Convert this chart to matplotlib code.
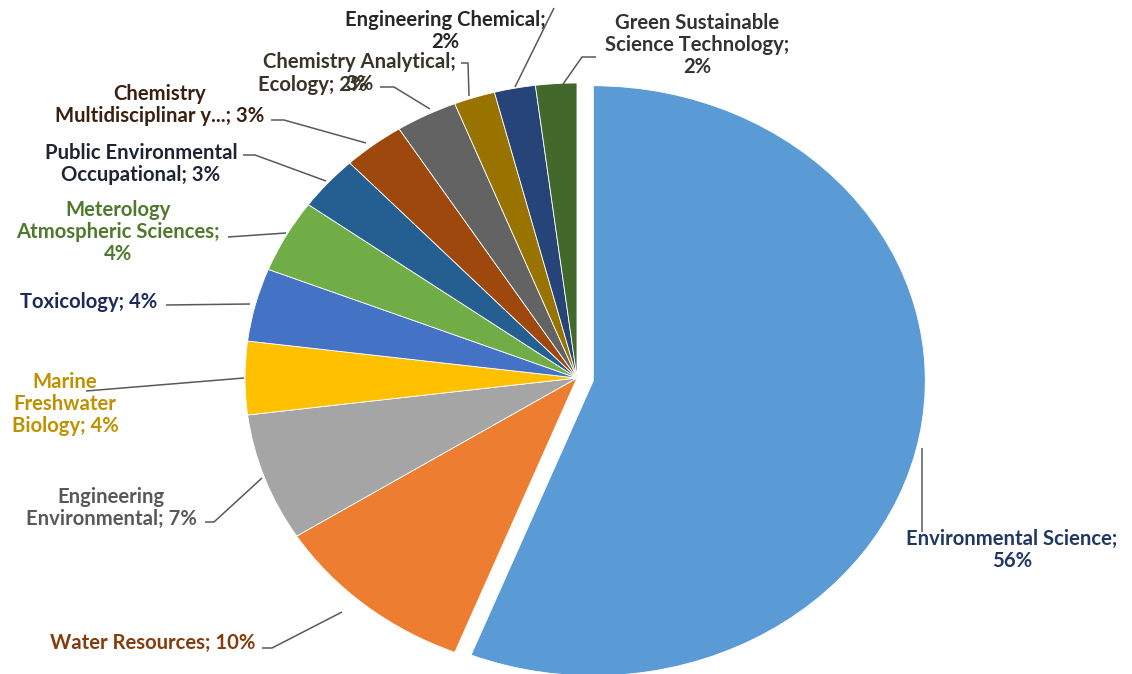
import matplotlib
matplotlib.use("Agg")
import matplotlib.pyplot as plt

# Research categories and their share of publications (%)
categories = [
    "Environmental Science", "Water Resources", "Engineering Environmental",
    "Marine Freshwater Biology", "Toxicology", "Meterology Atmospheric Sciences",
    "Public Environmental Occupational", "Chemistry Multidisciplinary",
    "Chemistry Analytical", "Ecology", "Engineering Chemical",
    "Green Sustainable Science Technology",
]
shares = [56, 10, 7, 4, 4, 4, 3, 3, 3, 2, 2, 2]
label_texts = [
    "Environmental Science;\n{v}%", "Water Resources; {v}%", "Engineering\nEnvironmental; {v}%",
    "Marine\nFreshwater\nBiology; {v}%", "Toxicology; {v}%", "Meterology\nAtmospheric Sciences;\n{v}%",
    "Public Environmental\nOccupational; {v}%", "Chemistry\nMultidisciplinar y...; {v}%",
    "Chemistry Analytical;\n{v}%", "Ecology; {v}%", "Engineering Chemical;\n{v}%",
    "Green Sustainable\nScience Technology;\n{v}%",
]

slice_colors = ["#5B9BD5", "#ED7D31", "#A5A5A5", "#FFC000", "#4472C4", "#70AD47",
                "#255E91", "#9E480E", "#636363", "#997300", "#264478", "#43682B"]
text_colors = ["#1F3864", "#843C0C", "#595959", "#BF9000", "#1F2A5C", "#4E7A2E",
               "#1E2433", "#3B2010", "#3A3428", "#3A3428", "#262626", "#333333"]

W, H = 1132, 674
CX, CY, RX, RY = 577, 378, 332, 295


def px(x, y):
    """Convert a pixel position (origin top-left) to data coordinates."""
    return (x - CX) / RX, (CY - y) / RY


# label anchor (centre of text block) and leader polyline, in pixels
label_pos = [(1012, 550), (153, 643), (111, 508), (65, 404), (89, 302), (118, 232),
             (141, 164), (160, 105), (359, 73), (313, 85), (445, 31), (697, 45)]
leaders = [
    [(922, 532), (922, 448)],
    [(262, 648), (272, 648), (342, 612)],
    [(205, 522), (214, 522), (262, 478)],
    [(86, 391), (244, 378)],
    [(166, 305), (250, 304)],
    [(228, 237), (286, 233)],
    [(243, 155), (255, 155), (326, 181)],
    [(271, 120), (284, 120), (366, 143)],
    [(461, 63), (468, 63), (469, 96)],
    [(380, 87), (394, 87), (430, 109)],
    [(554, 8), (515, 87)],
    [(596, 57), (582, 57), (561, 87)],
]

fig = plt.figure(figsize=(W / 100, H / 100), dpi=100)
ax = fig.add_axes([0, 0, 1, 1])

explode = [0.05] + [0] * (len(shares) - 1)
ax.pie(shares, colors=slice_colors, startangle=90, counterclock=False,
       explode=explode, wedgeprops=dict(edgecolor="white", linewidth=0.6))
ax.set_aspect("auto")
ax.set_xlim(-CX / RX, (W - CX) / RX)
ax.set_ylim(-(H - CY) / RY, CY / RY)
ax.axis("off")

for pts in leaders:
    xs, ys = zip(*[px(*p) for p in pts])
    ax.plot(xs, ys, color="#595959", lw=1.1, solid_capstyle="butt", zorder=3)

for txt, val, pos, col in zip(label_texts, shares, label_pos, text_colors):
    x, y = px(*pos)
    ax.text(x, y, txt.format(v=val), ha="center", va="center", color=col,
            fontsize=14.6, fontweight="bold", family="Lato", linespacing=1.12,
            zorder=4)

fig.savefig("out.png", dpi=100, facecolor="white")
